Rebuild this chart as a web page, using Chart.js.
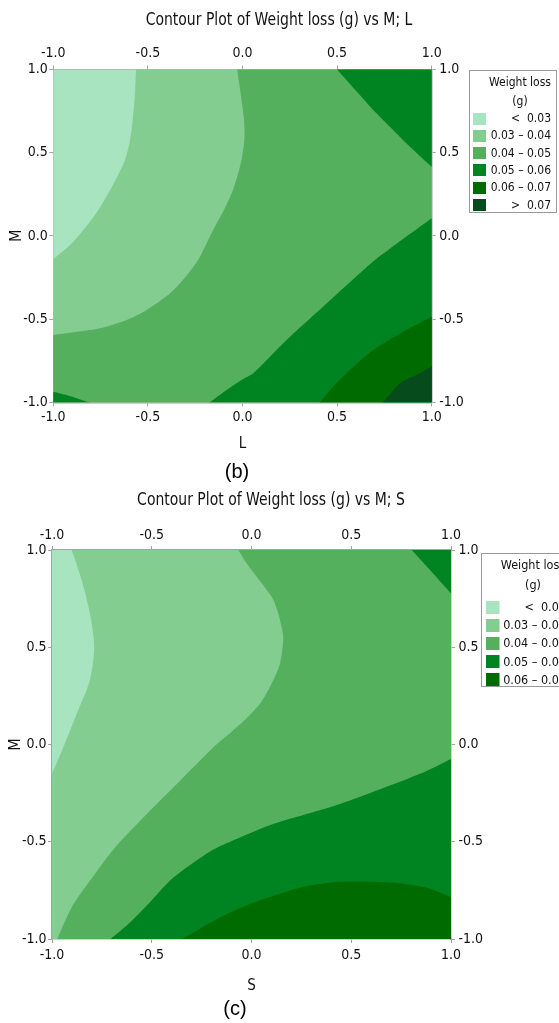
<!DOCTYPE html>
<html>
<head>
<meta charset="utf-8">
<script src="https://cdn.jsdelivr.net/npm/chart.js@4.4.1/dist/chart.umd.min.js"></script>
<style>
  html, body { margin: 0; padding: 0; background: #fff; width: 559px; height: 1023px; overflow: hidden; }
  .panel { position: absolute; left: 0; width: 559px; }
  .cap { position: absolute; width: 60px; text-align: center; font-family: "Liberation Sans", Arial, sans-serif;
         font-size: 20px; line-height: 24px; color: #000; }
</style>
</head>
<body>
<div class="panel" style="top:0;height:480px"><canvas id="chartB" width="559" height="480"></canvas></div>
<div class="panel" style="top:480px;height:543px"><canvas id="chartC" width="559" height="543"></canvas></div>
<div class="cap" style="left:207px;top:459px">(b)</div>
<div class="cap" style="left:205px;top:996px">(c)</div>

<script>
// ---- shared axis / legend content ----
const tickValues = [-1.0, -0.5, 0.0, 0.5, 1.0];
const legendTitle = ['Weight loss', '(g)'];
const bandLabels = ['<  0.03', '0.03 – 0.04', '0.04 – 0.05', '0.05 – 0.06', '0.06 – 0.07', '>  0.07'];
const bandColors = ['#a8e4bf', '#83cd91', '#54b05d', '#008321', '#006b00', '#054b1b'];

// ---- panel (b): Weight loss over L (x) and M (y); contour lines as [L, M] ----
const bContour003 = [[-0.563, 1.0], [-0.568, 0.857], [-0.584, 0.656], [-0.598, 0.556], [-0.621, 0.456],
  [-0.662, 0.356], [-0.709, 0.256], [-0.762, 0.156], [-0.827, 0.055], [-0.903, -0.045], [-1.0, -0.139]];
const bContour004 = [[-0.028, 1.0], [-0.010, 0.857], [0.008, 0.70], [0.010, 0.58], [-0.005, 0.456],
  [-0.028, 0.356], [-0.057, 0.256], [-0.098, 0.156], [-0.146, 0.055], [-0.190, -0.045], [-0.235, -0.145],
  [-0.300, -0.245], [-0.383, -0.345], [-0.506, -0.445], [-0.612, -0.505], [-0.753, -0.555], [-0.930, -0.585], [-1.0, -0.595]];
const bContour005Top = [[0.500, 1.0], [0.612, 0.857], [0.691, 0.757], [0.779, 0.656], [0.867, 0.556], [1.0, 0.415]];
const bContour005Low = [[1.0, 0.106], [0.841, -0.025], [0.700, -0.145], [0.620, -0.225], [0.427, -0.425],
  [0.233, -0.626], [0.057, -0.826], [-0.005, -0.866], [-0.084, -0.926], [-0.172, -1.0]];
const bContour005Corner = [[-1.0, -0.937], [-0.90, -0.967], [-0.815, -1.0]];
const bContour006 = [[1.0, -0.486], [0.849, -0.576], [0.691, -0.686], [0.568, -0.806], [0.480, -0.906], [0.409, -1.0]];
const bContour007 = [[1.0, -0.782], [0.938, -0.826], [0.832, -0.886], [0.744, -1.0]];

// ---- panel (c): Weight loss over S (x) and M (y); contour lines as [S, M] ----
const cContour003 = [[-0.901, 1.0], [-0.851, 0.845], [-0.810, 0.674], [-0.788, 0.502], [-0.810, 0.330],
  [-0.876, 0.158], [-0.943, -0.014], [-1.0, -0.151]];
const cContour004 = [[-0.066, 1.0], [-0.024, 0.931], [0.101, 0.759], [0.134, 0.674], [0.159, 0.553],
  [0.143, 0.416], [0.109, 0.330], [0.050, 0.220], [-0.030, 0.130], [-0.100, 0.066], [-0.191, -0.014],
  [-0.358, -0.186], [-0.525, -0.357], [-0.684, -0.529], [-0.810, -0.701], [-0.903, -0.840], [-0.974, -1.0]];
const cContour005Top = [[0.803, 1.0], [0.895, 0.897], [1.0, 0.777]];
const cContour005Low = [[1.0, -0.074], [0.845, -0.151], [0.444, -0.306], [0.109, -0.409], [-0.058, -0.478],
  [-0.191, -0.540], [-0.325, -0.633], [-0.409, -0.701], [-0.509, -0.811], [-0.616, -0.922], [-0.706, -1.0]];
const cContour006 = [[1.0, -0.784], [0.878, -0.736], [0.694, -0.710], [0.444, -0.706], [0.243, -0.736],
  [0.009, -0.813], [-0.151, -0.885], [-0.348, -1.0]];

// points outside the coded region, used to close the filled regions (clipped away)
const OUT = 1.6;
const TL = [-OUT, OUT], TR = [OUT, OUT], BR = [OUT, -OUT], BL = [-OUT, -OUT];

const FONT = '"DejaVu Sans Condensed", "Liberation Sans Narrow", "Liberation Sans", sans-serif';
const AXIS_GREY = '#a3a3a3';

// carry a contour on past the side of the square in the direction it leaves it
function leadOut(end, inner) {
  const dx = end[0] - inner[0], dy = end[1] - inner[1];
  const len = Math.hypot(dx, dy) || 1;
  return [end[0] + dx / len * 0.6, end[1] + dy / len * 0.6];
}

// Each region is the area at or above a contour level: contour line + corners on its high side.
function regionDataset(edge, corners, band, idx) {
  let ring = corners;
  if (edge.length) {
    const n = edge.length;
    ring = edge.concat([leadOut(edge[n - 1], edge[n - 2])], corners, [leadOut(edge[0], edge[1])]);
  }
  const pts = ring.map(([x, y]) => ({ x, y }));
  pts.push(pts[0]);
  return {
    data: pts,
    fill: 'shape',
    backgroundColor: bandColors[band],
    borderColor: 'rgba(0,0,0,0)',
    borderWidth: 0,
    pointRadius: 0,
    pointHoverRadius: 0,
    tension: 0.25,
    capBezierPoints: false,
    clip: 0,
    order: -idx,
    xAxisID: 'x',
    yAxisID: 'y'
  };
}

function gridAtZero(c) {
  return (c.tick && c.tick.value === 0) ? 'rgba(255,255,255,0.30)' : 'rgba(0,0,0,0)';
}

function setTicks(scale) {
  scale.ticks = tickValues.map(v => ({ value: v }));
}

function buildScales(p) {
  const tickFont = { family: FONT, size: p.tickSize };
  const ticks = (pad) => ({ font: tickFont, color: '#111', padding: pad, autoSkip: false, maxRotation: 0,
    minRotation: 0, callback: v => Number(v).toFixed(1) });
  const base = { type: 'linear', min: -1, max: 1, z: 1, afterBuildTicks: setTicks,
    border: { color: AXIS_GREY, width: 1.5 } };
  return {
    x: { ...base, position: 'bottom', ticks: ticks(p.bottomPad),
      grid: { color: gridAtZero, lineWidth: 1, tickColor: AXIS_GREY, tickLength: 4, tickWidth: 1 },
      title: { display: true, text: p.xTitle, color: '#111', font: { family: FONT, size: p.titleSize },
        padding: { top: 0, bottom: p.xTitlePad } },
      afterFit: s => { s.height = p.bottomH; } },
    x2: { ...base, position: 'top', ticks: ticks(p.topPad),
      grid: { drawOnChartArea: false, tickColor: AXIS_GREY, tickLength: 4, tickWidth: 1 },
      afterFit: s => { s.height = p.topH; } },
    y: { ...base, position: 'left', ticks: ticks(p.leftPad),
      grid: { color: gridAtZero, lineWidth: 1, tickColor: AXIS_GREY, tickLength: 4, tickWidth: 1 },
      title: { display: true, text: 'M', color: '#111', font: { family: FONT, size: p.yTitleSize },
        padding: { top: p.yTitlePad, bottom: 0 } },
      afterFit: s => { s.width = p.leftW; } },
    y2: { ...base, position: 'right', ticks: ticks(p.rightPad),
      grid: { drawOnChartArea: false, tickColor: AXIS_GREY, tickLength: 4, tickWidth: 1 },
      afterFit: s => { s.width = p.rightW; } }
  };
}

function squeezedText(ctx, text, x, y, sx) {
  ctx.save();
  ctx.translate(x, y);
  ctx.scale(sx, 1);
  ctx.fillText(text, 0, 0);
  ctx.restore();
}

// Chart title and the level legend, drawn on top of the finished chart.
const panelDecor = {
  id: 'panelDecor',
  afterDraw(chart, args, o) {
    const ctx = chart.ctx;
    ctx.save();
    ctx.fillStyle = '#111';
    ctx.textAlign = 'center';
    ctx.textBaseline = 'middle';
    ctx.font = `${o.titleSize}px ${FONT}`;
    squeezedText(ctx, o.title, o.titleX, o.titleY, o.titleScale);

    const L = o.legend;
    ctx.fillStyle = '#fff';
    ctx.fillRect(L.x, L.y, L.w, L.h);
    ctx.strokeStyle = '#9a9a9a';
    ctx.lineWidth = 1;
    ctx.strokeRect(L.x + 0.5, L.y + 0.5, L.w, L.h);
    ctx.fillStyle = '#111';
    ctx.font = `${L.size}px ${FONT}`;
    ctx.fillText(legendTitle[0], L.cx, L.t1);
    ctx.fillText(legendTitle[1], L.cx, L.t2);
    for (let i = 0; i < L.count; i++) {
      const y = L.row0 + i * L.step;
      ctx.fillStyle = bandColors[i];
      ctx.fillRect(L.sx, Math.round(y - L.sh / 2), L.sw, L.sh);
      ctx.fillStyle = '#111';
      ctx.textAlign = 'right';
      ctx.fillText(bandLabels[i], L.tx, y + 0.5);
    }
    ctx.restore();
  }
};

function makeChart(id, datasets, p, decor) {
  return new Chart(document.getElementById(id), {
    type: 'line',
    data: { datasets },
    options: {
      responsive: false,
      animation: false,
      events: [],
      layout: { padding: { left: 0, top: 0, right: p.layoutRight, bottom: 0 } },
      scales: buildScales(p),
      plugins: { legend: { display: false }, tooltip: { enabled: false }, panelDecor: decor }
    },
    plugins: [panelDecor]
  });
}

// ---- panel (b) ----
const bRegions = [
  [[], [TL, TR, BR, BL], 0],
  [bContour003, [BL, BR, TR], 1],
  [bContour004, [BL, BR, TR], 2],
  [bContour005Top, [TR], 3],
  [bContour005Low, [BR], 3],
  [bContour005Corner, [BL], 3],
  [bContour006, [BR], 4],
  [bContour007, [BR], 5]
];
makeChart('chartB', bRegions.map((r, i) => regionDataset(r[0], r[1], r[2], i)), {
  tickSize: 14, titleSize: 15, yTitleSize: 16, xTitle: 'L',
  bottomH: 77.7, topH: 69.5, leftW: 53.3, rightW: 50, layoutRight: 77.3,
  bottomPad: 2.5, topPad: 4, leftPad: 1.5, rightPad: 3.5,
  xTitlePad: 27, yTitlePad: 7.5
}, {
  title: 'Contour Plot of Weight loss (g) vs M; L', titleSize: 18.5, titleScale: 0.84, titleX: 279, titleY: 20,
  legend: { x: 469, y: 70, w: 87, h: 142, size: 12, cx: 520, t1: 83, t2: 101.5,
    count: 6, row0: 118.5, step: 17.3, sx: 473, sw: 13, sh: 12, tx: 551 }
});

// ---- panel (c) ----
const cRegions = [
  [[], [TL, TR, BR, BL], 0],
  [cContour003, [BL, BR, TR], 1],
  [cContour004, [BR, TR], 2],
  [cContour005Top, [TR], 3],
  [cContour005Low, [BR], 3],
  [cContour006, [BR], 4]
];
makeChart('chartC', cRegions.map((r, i) => regionDataset(r[0], r[1], r[2], i)), {
  tickSize: 14, titleSize: 15, yTitleSize: 16, xTitle: 'S',
  bottomH: 84, topH: 70, leftW: 52, rightW: 50, layoutRight: 58,
  bottomPad: 4, topPad: 2, leftPad: 1.5, rightPad: 3.5,
  xTitlePad: 28, yTitlePad: 6
}, {
  title: 'Contour Plot of Weight loss (g) vs M; S', titleSize: 18.5, titleScale: 0.84, titleX: 271, titleY: 20,
  legend: { x: 481, y: 73, w: 95, h: 133, size: 12.5, cx: 533, t1: 86, t2: 106,
    count: 5, row0: 127.5, step: 18.1, sx: 486, sw: 13.5, sh: 13, tx: 566 }
});
</script>
</body>
</html>
